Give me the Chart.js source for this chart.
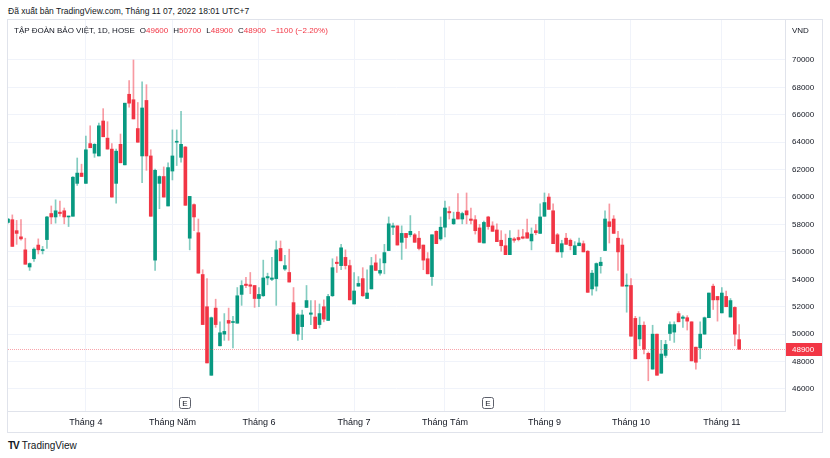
<!DOCTYPE html>
<html>
<head>
<meta charset="utf-8">
<script src="https://cdn.jsdelivr.net/npm/chart.js@4.4.0/dist/chart.umd.min.js"></script>
<style>
  body { margin: 0; background: #fff; font-family: "Liberation Sans", Arial, sans-serif; color: #131722; }
  #published { position: absolute; left: 8px; top: 6px; font-size: 8.5px; white-space: nowrap; }
  #frame { position: absolute; left: 7px; top: 19px; width: 814px; height: 412px; border: 1px solid #e0e3eb; }
  #legend { position: absolute; left: 14px; top: 26px; font-size: 8px; white-space: nowrap; }
  #legend .v { color: #f23645; }
  #legend .g { margin-left: 5px; }
  #unit { position: absolute; left: 792px; top: 26px; font-size: 8px; }
  #logo { position: absolute; left: 8px; top: 440px; font-size: 10px; white-space: nowrap; }
  #logo b { font-weight: 900; letter-spacing: -1px; margin-right: 3px; }
</style>
</head>
<body>
<div id="published">Đã xuất bản TradingView.com, Tháng 11 07, 2022 18:01 UTC+7</div>
<div id="frame"><canvas id="chart" width="814" height="412"></canvas></div>
<div id="legend">TẬP ĐOÀN BẢO VIỆT, 1D, HOSE<span class="g">O</span><span class="v">49600</span><span class="g">H</span><span class="v">50700</span><span class="g">L</span><span class="v">48900</span><span class="g">C</span><span class="v">48900</span><span class="g v">−1100 (−2.20%)</span></div>
<div id="unit">VND</div>
<div id="logo"><b>TV</b>TradingView</div>
<script>
// daily candles, Mar 2022 -> 7 Nov 2022
const opens = [
  58150, 58350, 57550, 57100, 56150, 54900, 55500, 56500, 56100, 56900,
  58800, 58550, 58900, 59000, 58550, 58600, 61000, 61750, 61000, 63900,
  63200, 63000, 65550, 64300, 63500, 61000, 63850, 62350, 67500, 67100,
  65000, 63000, 67050, 63000, 55400, 61000, 61500, 59350, 61900, 64000,
  62900, 63650, 57000, 59450, 57400, 54350, 52000, 47000, 51900, 49150,
  50000, 51000, 50850, 50800, 52900, 53650, 53600, 53550, 52600, 52800,
  54100, 54000, 54050, 56250, 54750, 54500, 52300, 50000, 50550, 51950,
  51450, 51250, 50700, 52000, 51000, 52800, 55250, 55000, 55600, 55000,
  52200, 53500, 54050, 52600, 53300, 55200, 54450, 55200, 56100, 57800,
  57900, 56700, 57350, 57250, 57250, 57000, 56500, 55500, 54200, 57500,
  56950, 57800, 58950, 58050, 58900, 58400, 59000, 58400, 58350, 57750,
  56650, 58550, 57900, 57600, 56850, 56450, 55800, 56950, 57050, 57100,
  57400, 56800, 57550, 57350, 58600, 60000, 59000, 57250, 56000, 57000,
  56850, 55800, 56450, 56600, 56050, 53300, 53500, 55000, 56100, 58200,
  58400, 57000, 56500, 53500, 53550, 51150, 49650, 50650, 48600, 47450,
  50000, 47150, 48450, 50050, 50150, 51500, 51150, 51200, 50900, 49050,
  49000, 50000, 51200, 53500, 52750, 51550, 52750, 51250, 51950, 49600
];
const highs = [
  58450, 58700, 58300, 58350, 57000, 55200, 56300, 56950, 56400, 58600,
  59350, 59800, 59700, 59200, 58600, 61500, 62850, 62400, 64450, 65200,
  63900, 65400, 66450, 65500, 63900, 63500, 64600, 66850, 68500, 70000,
  66900, 68400, 68200, 63450, 62050, 61550, 62200, 62500, 64900, 64900,
  66250, 63700, 60050, 59500, 58400, 54700, 54050, 51250, 52550, 50900,
  51500, 51900, 51300, 53400, 53900, 54150, 54500, 53550, 53400, 55400,
  54450, 55600, 56800, 56800, 55750, 56200, 53400, 51500, 51750, 53550,
  52450, 52450, 52200, 52500, 52900, 55500, 55650, 56550, 56150, 55400,
  54500, 54200, 54850, 54700, 55600, 55800, 55500, 56550, 58550, 58100,
  57900, 57900, 57350, 58650, 57350, 57500, 56500, 55950, 57250, 57550,
  58550, 59700, 59300, 58900, 60250, 58900, 60300, 59200, 58650, 58000,
  58250, 58600, 58200, 58050, 57550, 57300, 57550, 57050, 57600, 57650,
  58400, 57750, 58000, 59500, 60300, 60250, 59500, 57350, 56850, 57350,
  56950, 56750, 57000, 56800, 56100, 54650, 55200, 55600, 59000, 59500,
  58650, 57500, 56950, 54400, 54050, 51300, 51250, 50900, 48700, 50650,
  50000, 49550, 49550, 50900, 50900, 51650, 51350, 51350, 50900, 49050,
  50900, 51250, 53000, 53650, 52750, 53400, 53150, 52600, 52000, 50700
];
const lows = [
  58100, 56400, 56550, 56850, 55100, 54650, 55300, 55850, 55850, 56250,
  58050, 58100, 58600, 58050, 57850, 58600, 60850, 61500, 61000, 63600,
  62900, 63000, 64400, 63500, 60000, 59550, 62500, 62350, 66550, 65700,
  64000, 61050, 61950, 58600, 54650, 59150, 60000, 59350, 61250, 62300,
  62550, 59400, 56150, 57550, 54450, 50700, 47900, 47000, 50500, 49150,
  49550, 49550, 49000, 50800, 52100, 53400, 52950, 51950, 52000, 52750,
  53600, 53900, 52100, 55350, 54650, 53800, 50050, 49550, 49600, 51950,
  50700, 50400, 50450, 50900, 51000, 52750, 54500, 54700, 54750, 52500,
  52200, 53500, 52750, 52600, 53300, 54650, 54300, 54400, 56100, 57250,
  56500, 55450, 56250, 57100, 56700, 56150, 54700, 54400, 53550, 56600,
  56850, 57100, 58400, 58000, 58400, 58050, 58050, 58050, 57300, 56700,
  56650, 57650, 57500, 56750, 56050, 55800, 55800, 56700, 56800, 56950,
  57000, 56150, 57250, 57350, 58600, 59100, 56600, 56000, 55600, 56550,
  56150, 55800, 56450, 56000, 53050, 52850, 53150, 54450, 56100, 56650,
  57350, 54650, 53500, 51600, 49850, 48200, 49150, 48550, 46600, 47450,
  47000, 47150, 48300, 49550, 49400, 50900, 50500, 50300, 48050, 47450,
  48200, 50000, 51200, 51800, 50950, 51550, 52000, 51250, 49150, 48900
];
const closes = [
  58400, 56400, 57350, 56950, 55100, 55150, 56200, 56150, 56150, 58550,
  58550, 59000, 58800, 58550, 58600, 61450, 61750, 61500, 63450, 63600,
  63850, 65200, 64400, 63500, 60000, 63350, 62500, 66850, 66850, 65700,
  64000, 66500, 63000, 58600, 61950, 61500, 60000, 62150, 63000, 64050,
  63850, 59400, 60050, 58550, 54450, 50700, 47900, 51200, 50700, 50100,
  50200, 50800, 50900, 52800, 53550, 53550, 53500, 52600, 52900, 54100,
  54200, 54100, 56150, 55350, 55000, 53800, 50050, 51400, 51400, 52450,
  51550, 50400, 51500, 51100, 52750, 54850, 55150, 56300, 55000, 52500,
  53150, 53700, 52800, 53000, 55000, 54650, 54650, 55950, 58050, 57900,
  56500, 57350, 57050, 57500, 56700, 56250, 55400, 54400, 57250, 56600,
  57800, 59200, 58850, 58400, 58400, 58800, 58700, 58300, 57550, 56700,
  58150, 57850, 57500, 56750, 56450, 55800, 57000, 56850, 56900, 57000,
  57000, 57300, 57400, 58550, 59600, 59100, 56600, 56000, 56600, 56550,
  56450, 56450, 56650, 56000, 53050, 54450, 55150, 55250, 58400, 57850,
  57350, 56000, 53500, 53550, 49850, 48200, 50650, 48900, 48200, 50000,
  47000, 48550, 49250, 50700, 50700, 50900, 51250, 50950, 48050, 47950,
  50000, 51200, 53000, 52500, 52500, 53000, 52000, 52450, 50000, 48900
];

const monthIdx = [18, 38, 58, 80, 101, 124, 144, 165];
const monthLabels = ['Tháng 4', 'Tháng Năm', 'Tháng 6', 'Tháng 7', 'Tháng Tám', 'Tháng 9', 'Tháng 10', 'Tháng 11'];
const priceTicks = [46000, 48000, 50000, 52000, 54000, 56000, 58000, 60000, 62000, 64000, 66000, 68000, 70000];
const earningsIdx = [41, 111];

const UP = '#089981', DOWN = '#f23645';
const isUp = opens.map((o, i) => closes[i] >= o);
const wicks = opens.map((o, i) => ({ x: i, y: [lows[i], highs[i]] }));
const bodies = opens.map((o, i) => ({ x: i, y: [o, closes[i]] }));
const lastClose = closes[closes.length - 1];

const overlay = {
  id: 'overlay',
  afterDatasetsDraw(chart) {
    const { ctx, chartArea, scales } = chart;
    const y = Math.round(scales.y.getPixelForValue(lastClose));
    ctx.save();
    // last price line
    ctx.strokeStyle = 'rgba(242,54,69,0.45)';
    ctx.setLineDash([1, 1]);
    ctx.lineWidth = 1;
    ctx.beginPath();
    ctx.moveTo(chartArea.left, y + 0.5);
    ctx.lineTo(chartArea.right, y + 0.5);
    ctx.stroke();
    ctx.setLineDash([]);
    // price tag
    ctx.fillStyle = DOWN;
    ctx.fillRect(chartArea.right + 1, y - 6, chart.width - chartArea.right - 1, 13);
    ctx.fillStyle = '#fff';
    ctx.font = '8px "Liberation Sans", Arial, sans-serif';
    ctx.textBaseline = 'middle';
    ctx.fillText(String(lastClose), chartArea.right + 7, y + 1);
    // earnings marks
    earningsIdx.forEach(i => {
      const x = Math.round(scales.x.getPixelForValue(i));
      const top = chartArea.bottom - 14;
      ctx.strokeStyle = '#5d606b';
      ctx.lineWidth = 1;
      ctx.beginPath();
      ctx.roundRect(x - 5.5, top + 0.5, 11, 11, 2);
      ctx.stroke();
      ctx.fillStyle = '#131722';
      ctx.textAlign = 'center';
      ctx.fillText('E', x, top + 6.5);
    });
    ctx.restore();
  }
};

new Chart(document.getElementById('chart').getContext('2d'), {
  type: 'bar',
  data: {
    datasets: [{
      data: wicks,
      backgroundColor: isUp.map(u => u ? 'rgba(8,153,129,0.5)' : 'rgba(242,54,69,0.5)'),
      barThickness: 1,
      grouped: false
    }, {
      data: bodies,
      backgroundColor: isUp.map(u => u ? UP : DOWN),
      barThickness: 3,
      minBarLength: 1,
      grouped: false
    }]
  },
  options: {
    responsive: false,
    animation: false,
    layout: { padding: 0 },
    plugins: { legend: { display: false }, tooltip: { enabled: false } },
    scales: {
      x: {
        type: 'linear',
        offset: false,
        min: 0,
        max: 179.6,
        afterBuildTicks: axis => { axis.ticks = monthIdx.map(v => ({ value: v })); },
        afterFit: axis => { axis.height = 21; axis.paddingLeft = 0; axis.paddingRight = 0; },
        ticks: {
          autoSkip: false,
          maxRotation: 0,
          padding: 6,
          color: '#131722',
          font: { family: '"Liberation Sans", Arial, sans-serif', size: 9 },
          callback: v => monthLabels[monthIdx.indexOf(v)]
        },
        grid: { color: '#f0f3fa', drawTicks: false, offset: false },
        border: { color: '#e0e3eb' }
      },
      y: {
        position: 'right',
        min: 44394,
        max: 72918,
        afterBuildTicks: axis => { axis.ticks = priceTicks.map(v => ({ value: v })); },
        afterFit: axis => { axis.width = 37; axis.paddingTop = 0; axis.paddingBottom = 0; },
        ticks: {
          padding: 7,
          color: '#131722',
          font: { family: '"Liberation Sans", Arial, sans-serif', size: 8 },
          callback: v => String(v)
        },
        grid: { color: '#f0f3fa', drawTicks: false },
        border: { color: '#e0e3eb' }
      }
    }
  },
  plugins: [overlay]
});
</script>
</body>
</html>
